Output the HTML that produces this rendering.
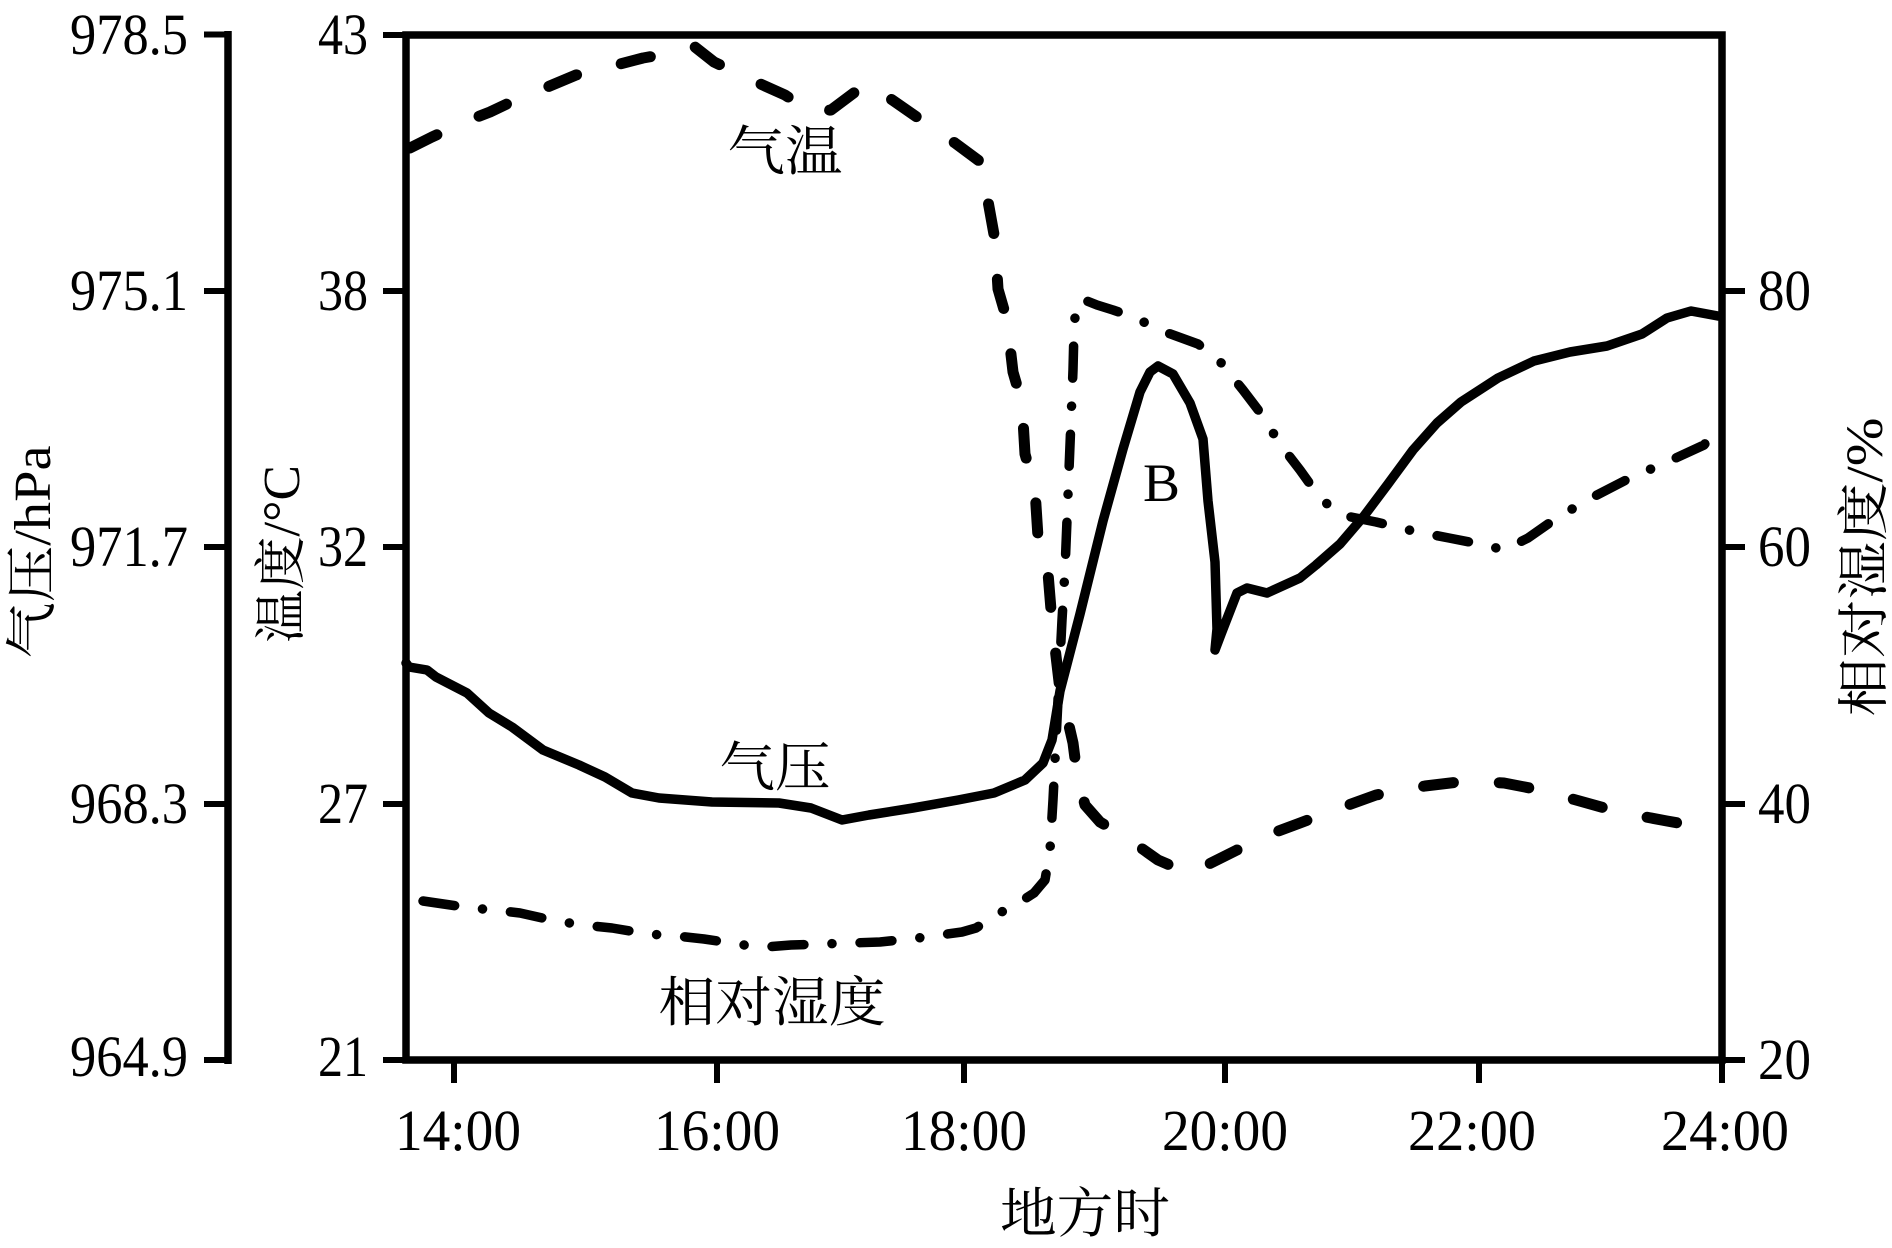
<!DOCTYPE html>
<html>
<head>
<meta charset="utf-8">
<style>
html,body{margin:0;padding:0;background:#fff;}
svg{display:block;}
text{font-family:"Liberation Serif","Noto Serif CJK SC",serif;fill:#000;}
</style>
</head>
<body>
<svg width="1892" height="1248" viewBox="0 0 1892 1248" xmlns="http://www.w3.org/2000/svg">
<rect x="0" y="0" width="1892" height="1248" fill="#fff"/>

<g stroke="#000" fill="none">
  <line x1="228" y1="31" x2="228" y2="1064" stroke-width="7.5"/>
  <g stroke-width="6">
    <line x1="204" y1="34.5" x2="228" y2="34.5"/>
    <line x1="204" y1="291" x2="228" y2="291"/>
    <line x1="204" y1="547" x2="228" y2="547"/>
    <line x1="204" y1="804" x2="228" y2="804"/>
    <line x1="204" y1="1060" x2="228" y2="1060"/>
  </g>
  <rect x="406" y="35" width="1316" height="1025" stroke-width="7.5"/>
  <g stroke-width="6">
    <line x1="383" y1="35" x2="406" y2="35"/>
    <line x1="383" y1="291" x2="406" y2="291"/>
    <line x1="383" y1="547" x2="406" y2="547"/>
    <line x1="383" y1="804" x2="406" y2="804"/>
    <line x1="383" y1="1060" x2="406" y2="1060"/>
    <line x1="1722" y1="291" x2="1745" y2="291"/>
    <line x1="1722" y1="547" x2="1745" y2="547"/>
    <line x1="1722" y1="804" x2="1745" y2="804"/>
    <line x1="1722" y1="1060" x2="1745" y2="1060"/>
    <line x1="454" y1="1060" x2="454" y2="1083"/>
    <line x1="717" y1="1060" x2="717" y2="1083"/>
    <line x1="964" y1="1060" x2="964" y2="1083"/>
    <line x1="1225" y1="1060" x2="1225" y2="1083"/>
    <line x1="1479" y1="1060" x2="1479" y2="1083"/>
    <line x1="1722" y1="1060" x2="1722" y2="1083"/>
  </g>
</g>

<g font-size="58" text-anchor="end">
  <text x="188" y="54" textLength="118" lengthAdjust="spacingAndGlyphs">978.5</text>
  <text x="188" y="310" textLength="118" lengthAdjust="spacingAndGlyphs">975.1</text>
  <text x="188" y="566" textLength="118" lengthAdjust="spacingAndGlyphs">971.7</text>
  <text x="188" y="823" textLength="118" lengthAdjust="spacingAndGlyphs">968.3</text>
  <text x="188" y="1076" textLength="118" lengthAdjust="spacingAndGlyphs">964.9</text>
</g>
<g font-size="58" text-anchor="end">
  <text x="368" y="54" textLength="50" lengthAdjust="spacingAndGlyphs">43</text>
  <text x="368" y="310" textLength="50" lengthAdjust="spacingAndGlyphs">38</text>
  <text x="368" y="566" textLength="50" lengthAdjust="spacingAndGlyphs">32</text>
  <text x="368" y="823" textLength="50" lengthAdjust="spacingAndGlyphs">27</text>
  <text x="368" y="1076" textLength="50" lengthAdjust="spacingAndGlyphs">21</text>
</g>
<g font-size="58" text-anchor="start">
  <text x="1758" y="310" textLength="53" lengthAdjust="spacingAndGlyphs">80</text>
  <text x="1758" y="566" textLength="53" lengthAdjust="spacingAndGlyphs">60</text>
  <text x="1758" y="823" textLength="53" lengthAdjust="spacingAndGlyphs">40</text>
  <text x="1758" y="1079" textLength="53" lengthAdjust="spacingAndGlyphs">20</text>
</g>
<g font-size="58" text-anchor="middle">
  <text x="458" y="1150" textLength="126" lengthAdjust="spacingAndGlyphs">14:00</text>
  <text x="717" y="1150" textLength="126" lengthAdjust="spacingAndGlyphs">16:00</text>
  <text x="964" y="1150" textLength="126" lengthAdjust="spacingAndGlyphs">18:00</text>
  <text x="1225" y="1150" textLength="126" lengthAdjust="spacingAndGlyphs">20:00</text>
  <text x="1472" y="1150" textLength="128" lengthAdjust="spacingAndGlyphs">22:00</text>
  <text x="1725" y="1150" textLength="128" lengthAdjust="spacingAndGlyphs">24:00</text>
</g>

<text font-size="52" text-anchor="middle" transform="translate(50,552) rotate(-90)" textLength="213" lengthAdjust="spacingAndGlyphs">气压/hPa</text>
<text font-size="52" text-anchor="middle" transform="translate(299,554) rotate(-90)" textLength="178" lengthAdjust="spacingAndGlyphs">温度/°C</text>
<text font-size="52" text-anchor="middle" transform="translate(1882,567) rotate(-90)" textLength="299" lengthAdjust="spacingAndGlyphs">相对湿度/%</text>
<text font-size="54" x="1085" y="1232" text-anchor="middle" textLength="170" lengthAdjust="spacingAndGlyphs">地方时</text>

<text font-size="54" x="785" y="170" text-anchor="middle" textLength="115" lengthAdjust="spacingAndGlyphs">气温</text>
<text font-size="54" x="775" y="786" text-anchor="middle" textLength="111" lengthAdjust="spacingAndGlyphs">气压</text>
<text font-size="54" x="772" y="1021" text-anchor="middle" textLength="227" lengthAdjust="spacingAndGlyphs">相对湿度</text>
<text font-size="54" x="1143" y="501" textLength="37" lengthAdjust="spacingAndGlyphs">B</text>

<polyline fill="none" stroke="#000" stroke-width="9.5" stroke-linejoin="round" stroke-linecap="round"
points="406,663 409,667 427,670 436,677 467,693 489,713 512,727 543,750 579,765 605,777 632,793 659,798 712,802 779,803 811,808 842,820 869,815 913,808 958,800 994,793 1025,780 1043,763 1052,740 1060,691 1080,614 1103,521 1123,449 1140,392 1150,372 1158,366 1173,374 1190,403 1203,439 1208,501 1215,562 1217,629 1215,650 1223,629 1237,593 1247,588 1267,593 1300,578 1316,565 1340,544 1364,516 1388,484 1413,450 1437,423 1461,402 1498,378 1534,361 1570,352 1607,346 1642,334 1667,318 1691,311 1718,316"/>

<polyline fill="none" stroke="#000" stroke-width="11" stroke-linejoin="round" stroke-linecap="round" stroke-dasharray="30 46"
points="410,148 432,137 454,127 472,119 490,112 511,102 528,95 545,88 576,75 605,68 643,58 677,52 695,47 714,62 756,82 785,95 811,112 831,110 867,83 888,97 924,122 955,143 982,163 986,190 995,240 998,289 1007,320 1013,372 1022,403 1025,454 1035,490 1038,537 1048,573 1052,622 1060,690 1067,717 1073,743 1077,774 1085,805 1100,822 1127,838 1158,860 1188,873 1205,866 1237,850 1265,836 1300,823 1340,808 1376,795 1425,786 1467,781 1504,783 1540,790 1576,800 1619,812 1667,821 1718,830"/>

<polyline fill="none" stroke="#000" stroke-width="9.5" stroke-linejoin="round" stroke-linecap="round" stroke-dasharray="32 28 0.1 28"
points="423,901 471,908 494,910 520,913 556,921 583,925 612,928 648,934 677,936 704,939 744,945 766,947 791,945 851,943 880,942 918,938 962,932 976,928 996,915 1020,902 1034,893 1045,880 1050,850 1053,800 1056,740 1059,680 1062,620 1065,570 1067,520 1069,470 1071,420 1073,370 1074,330 1076,305 1082,299 1097,305 1113,310 1133,317 1165,332 1198,344 1218,359 1243,390 1262,415 1280,444 1300,470 1310,484 1328,505 1346,516 1376,522 1413,531 1449,538 1485,545 1504,550 1528,538 1558,517 1595,496 1630,478 1667,462 1704,445 1718,428"/>
</svg>
</body>
</html>
